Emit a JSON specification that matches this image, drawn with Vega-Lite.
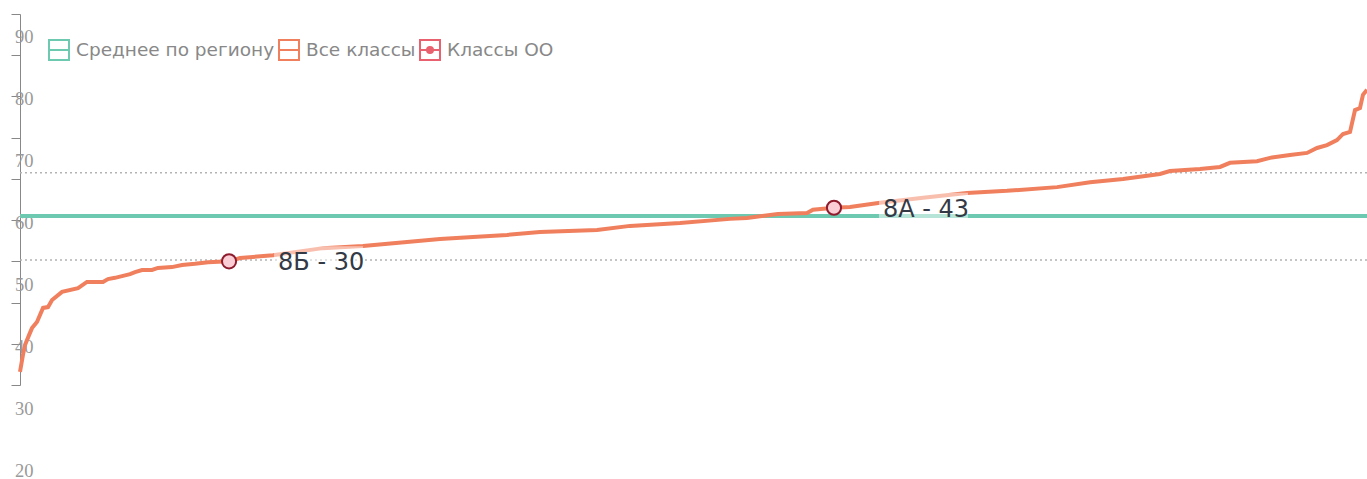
{
  "$schema": "https://vega.github.io/schema/vega-lite/v6.json",
  "width": 1347,
  "height": 371,
  "autosize": {"type": "none"},
  "padding": {"left": 20, "top": 14, "right": 0, "bottom": 94},
  "background": "white",
  "config": {"view": {"stroke": null}},
  "resolve": {"scale": {"y": "independent"}, "axis": {"y": "independent"}},
  "datasets": {
    "curve": [
      {"rank": 0, "score": 3.2, "series": "Все классы"},
      {"rank": 0.22, "score": 7.3, "series": "Все классы"},
      {"rank": 0.37, "score": 9.7, "series": "Все классы"},
      {"rank": 0.67, "score": 12.1, "series": "Все классы"},
      {"rank": 0.89, "score": 13.8, "series": "Все классы"},
      {"rank": 1.26, "score": 15.3, "series": "Все классы"},
      {"rank": 1.71, "score": 18.7, "series": "Все классы"},
      {"rank": 2.08, "score": 18.9, "series": "Все классы"},
      {"rank": 2.38, "score": 20.6, "series": "Все классы"},
      {"rank": 3.12, "score": 22.6, "series": "Все классы"},
      {"rank": 4.31, "score": 23.5, "series": "Все классы"},
      {"rank": 4.97, "score": 25.0, "series": "Все классы"},
      {"rank": 6.16, "score": 25.0, "series": "Все классы"},
      {"rank": 6.53, "score": 25.7, "series": "Все классы"},
      {"rank": 7.05, "score": 26.0, "series": "Все классы"},
      {"rank": 7.57, "score": 26.4, "series": "Все классы"},
      {"rank": 8.17, "score": 26.9, "series": "Все классы"},
      {"rank": 8.54, "score": 27.4, "series": "Все классы"},
      {"rank": 9.06, "score": 27.9, "series": "Все классы"},
      {"rank": 9.80, "score": 27.9, "series": "Все классы"},
      {"rank": 10.24, "score": 28.4, "series": "Все классы"},
      {"rank": 11.28, "score": 28.6, "series": "Все классы"},
      {"rank": 12.03, "score": 29.1, "series": "Все классы"},
      {"rank": 12.99, "score": 29.4, "series": "Все классы"},
      {"rank": 13.96, "score": 29.8, "series": "Все классы"},
      {"rank": 15.52, "score": 30.0, "series": "Все классы"},
      {"rank": 16.33, "score": 30.8, "series": "Все классы"},
      {"rank": 18.78, "score": 31.5, "series": "Все классы"},
      {"rank": 22.49, "score": 33.2, "series": "Все классы"},
      {"rank": 25.46, "score": 33.7, "series": "Все классы"},
      {"rank": 28.73, "score": 34.7, "series": "Все классы"},
      {"rank": 31.18, "score": 35.4, "series": "Все классы"},
      {"rank": 33.63, "score": 35.9, "series": "Все классы"},
      {"rank": 36.15, "score": 36.4, "series": "Все классы"},
      {"rank": 38.60, "score": 37.1, "series": "Все классы"},
      {"rank": 42.84, "score": 37.6, "series": "Все классы"},
      {"rank": 45.29, "score": 38.6, "series": "Все классы"},
      {"rank": 49.00, "score": 39.3, "series": "Все классы"},
      {"rank": 52.71, "score": 40.3, "series": "Все классы"},
      {"rank": 53.97, "score": 40.5, "series": "Все классы"},
      {"rank": 56.27, "score": 41.5, "series": "Все классы"},
      {"rank": 58.43, "score": 41.7, "series": "Все классы"},
      {"rank": 58.87, "score": 42.5, "series": "Все классы"},
      {"rank": 60.43, "score": 43.0, "series": "Все классы"},
      {"rank": 61.62, "score": 43.2, "series": "Все классы"},
      {"rank": 63.85, "score": 44.2, "series": "Все классы"},
      {"rank": 67.04, "score": 45.4, "series": "Все классы"},
      {"rank": 70.30, "score": 46.6, "series": "Все классы"},
      {"rank": 73.27, "score": 47.1, "series": "Все классы"},
      {"rank": 76.99, "score": 48.0, "series": "Все классы"},
      {"rank": 79.44, "score": 49.2, "series": "Все классы"},
      {"rank": 81.89, "score": 50.0, "series": "Все классы"},
      {"rank": 84.63, "score": 51.2, "series": "Все классы"},
      {"rank": 85.37, "score": 51.9, "series": "Все классы"},
      {"rank": 87.60, "score": 52.4, "series": "Все классы"},
      {"rank": 89.09, "score": 52.9, "series": "Все классы"},
      {"rank": 89.83, "score": 53.9, "series": "Все классы"},
      {"rank": 91.83, "score": 54.3, "series": "Все классы"},
      {"rank": 92.80, "score": 55.1, "series": "Все классы"},
      {"rank": 94.28, "score": 55.8, "series": "Все классы"},
      {"rank": 95.55, "score": 56.3, "series": "Все классы"},
      {"rank": 96.29, "score": 57.5, "series": "Все классы"},
      {"rank": 97.03, "score": 58.2, "series": "Все классы"},
      {"rank": 97.77, "score": 59.4, "series": "Все классы"},
      {"rank": 98.22, "score": 60.9, "series": "Все классы"},
      {"rank": 98.74, "score": 61.4, "series": "Все классы"},
      {"rank": 99.11, "score": 66.7, "series": "Все классы"},
      {"rank": 99.48, "score": 67.2, "series": "Все классы"},
      {"rank": 99.70, "score": 70.4, "series": "Все классы"},
      {"rank": 100, "score": 71.6, "series": "Все классы"}
    ],
    "average": [{"series": "Среднее по региону", "score": 41.0}],
    "bounds": [{"score": 30.3}, {"score": 51.5}],
    "classes": [
      {"rank": 15.52, "score": 30, "label": "8Б - 30"},
      {"rank": 60.43, "score": 43, "label": "8А - 43"}
    ],
    "yLabels": [
      {"tick": 90}, {"tick": 80}, {"tick": 70}, {"tick": 60},
      {"tick": 50}, {"tick": 40}, {"tick": 30}, {"tick": 20}
    ]
  },
  "layer": [
    {
      "data": {"name": "bounds"},
      "mark": {"type": "rule", "stroke": "#b3b3b3", "strokeWidth": 1.5, "strokeDash": [2, 3]},
      "encoding": {
        "y": {
          "field": "score", "type": "quantitative",
          "scale": {"domain": [0, 90], "nice": false, "zero": false},
          "axis": {
            "orient": "left",
            "values": [0, 10, 20, 30, 40, 50, 60, 70, 80, 90],
            "title": null, "grid": false, "labels": false,
            "domainColor": "#888", "domainWidth": 1,
            "tickColor": "#888", "tickSize": 9, "tickWidth": 1
          }
        }
      }
    },
    {
      "data": {"name": "yLabels"},
      "mark": {"type": "text", "align": "left", "baseline": "middle", "dx": -5, "dy": -1, "font": "Liberation Serif", "fontSize": 18.5, "fill": "#999999"},
      "encoding": {
        "x": {"datum": 0, "type": "quantitative", "scale": {"domain": [0, 100], "nice": false, "zero": false}, "axis": null},
        "y": {"field": "tick", "type": "quantitative", "scale": {"domain": [34.03, 93.87], "nice": false, "zero": false}, "axis": null},
        "text": {"field": "tick"}
      }
    },
    {
      "data": {"name": "average"},
      "mark": {"type": "rule", "strokeWidth": 4},
      "encoding": {
        "y": {"field": "score", "type": "quantitative", "scale": {"domain": [0, 90], "nice": false, "zero": false}, "axis": null},
        "color": {
          "field": "series", "type": "nominal",
          "scale": {"domain": ["Среднее по региону", "Все классы", "Классы ОО"], "range": ["#6dcab0", "#f07f5e", "#e9616f"]},
          "legend": {
            "orient": "none", "legendX": 28, "legendY": 25, "direction": "horizontal", "title": null,
            "columnPadding": 0, "labelOffset": 6, "labelFont": "DejaVu Sans", "labelFontSize": 18.5, "labelColor": "#888888", "labelLimit": 0,
            "symbolSize": 400, "symbolStrokeWidth": 2, "symbolType": "M-1,-1H1V1H-1Z",
            "encode": {"symbols": {"update": {
              "shape": {"signal": "datum.value === 'Классы ОО' ? 'M-1,-1H1V1H-1Z M-1,0H1 M-0.3,0A0.3,0.3 0 1,0 0.3,0A0.3,0.3 0 1,0 -0.3,0 M-0.15,0A0.15,0.15 0 1,0 0.15,0A0.15,0.15 0 1,0 -0.15,0' : 'M-1,-1H1V1H-1Z M-1,0H1'"},
              "fill": {"value": "transparent"}
            }}}
          }
        }
      }
    },
    {
      "data": {"name": "curve"},
      "mark": {"type": "line", "strokeWidth": 4, "interpolate": "linear"},
      "encoding": {
        "x": {"field": "rank", "type": "quantitative", "scale": {"domain": [0, 100], "nice": false, "zero": false}, "axis": null},
        "y": {"field": "score", "type": "quantitative", "scale": {"domain": [0, 90], "nice": false, "zero": false}, "axis": null},
        "color": {
          "field": "series", "type": "nominal",
          "scale": {"domain": ["Среднее по региону", "Все классы", "Классы ОО"], "range": ["#6dcab0", "#f07f5e", "#e9616f"]}
        }
      }
    },
    {
      "data": {"name": "classes"},
      "mark": {"type": "point", "filled": true, "fill": "#fbcdd5", "stroke": "#8e1b2c", "strokeWidth": 2, "size": 200, "opacity": 1},
      "encoding": {
        "x": {"field": "rank", "type": "quantitative", "scale": {"domain": [0, 100], "nice": false, "zero": false}, "axis": null},
        "y": {"field": "score", "type": "quantitative", "scale": {"domain": [0, 90], "nice": false, "zero": false}, "axis": null}
      }
    },
    {
      "data": {"name": "classes"},
      "mark": {"type": "point", "filled": true, "shape": "M4.5,-1.5H13.4V1.5H4.5Z", "size": 400, "fill": "white", "opacity": 0.5, "strokeWidth": 0},
      "encoding": {
        "x": {"field": "rank", "type": "quantitative", "scale": {"domain": [0, 100], "nice": false, "zero": false}, "axis": null},
        "y": {"field": "score", "type": "quantitative", "scale": {"domain": [0, 90], "nice": false, "zero": false}, "axis": null}
      }
    },
    {
      "data": {"name": "classes"},
      "mark": {"type": "text", "align": "left", "baseline": "middle", "dx": 49, "dy": 2, "font": "DejaVu Sans", "fontSize": 24, "fill": "#333a45"},
      "encoding": {
        "x": {"field": "rank", "type": "quantitative", "scale": {"domain": [0, 100], "nice": false, "zero": false}, "axis": null},
        "y": {"field": "score", "type": "quantitative", "scale": {"domain": [0, 90], "nice": false, "zero": false}, "axis": null},
        "text": {"field": "label"}
      }
    }
  ]
}
